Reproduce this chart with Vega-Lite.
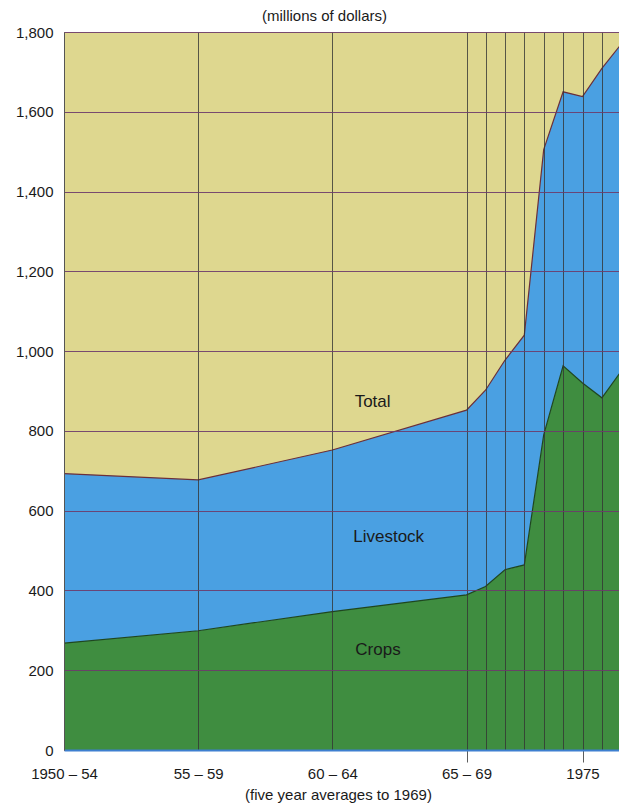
{
  "$schema": "https://vega.github.io/schema/vega-lite/v6.json",
  "width": 555,
  "height": 718,
  "autosize": {"type": "none"},
  "padding": {"left": 64, "top": 32, "right": 0, "bottom": 56},
  "background": "white",
  "config": {"view": {"fill": "#ded78f", "stroke": null}, "font": "Liberation Sans"},
  "title": {"text": "(millions of dollars)", "fontSize": 15, "fontWeight": "normal", "color": "#1a1a1a", "anchor": "middle", "dx": -17, "offset": 1, "font": "Liberation Sans"},
  "datasets": {
    "values": [
      {"year": 1952, "period": "1950–54", "series": "Crops", "value": 268},
      {"year": 1957, "period": "55–59", "series": "Crops", "value": 299},
      {"year": 1962, "period": "60–64", "series": "Crops", "value": 347},
      {"year": 1967, "period": "65–69", "series": "Crops", "value": 389},
      {"year": 1970, "period": "1970", "series": "Crops", "value": 410},
      {"year": 1971, "period": "1971", "series": "Crops", "value": 452},
      {"year": 1972, "period": "1972", "series": "Crops", "value": 464},
      {"year": 1973, "period": "1973", "series": "Crops", "value": 790},
      {"year": 1974, "period": "1974", "series": "Crops", "value": 963},
      {"year": 1975, "period": "1975", "series": "Crops", "value": 920},
      {"year": 1976, "period": "1976", "series": "Crops", "value": 883},
      {"year": 1977, "period": "1977", "series": "Crops", "value": 950},
      {"year": 1952, "period": "1950–54", "series": "Livestock", "value": 425},
      {"year": 1957, "period": "55–59", "series": "Livestock", "value": 378},
      {"year": 1962, "period": "60–64", "series": "Livestock", "value": 405},
      {"year": 1967, "period": "65–69", "series": "Livestock", "value": 463},
      {"year": 1970, "period": "1970", "series": "Livestock", "value": 492},
      {"year": 1971, "period": "1971", "series": "Livestock", "value": 525},
      {"year": 1972, "period": "1972", "series": "Livestock", "value": 576},
      {"year": 1973, "period": "1973", "series": "Livestock", "value": 715},
      {"year": 1974, "period": "1974", "series": "Livestock", "value": 687},
      {"year": 1975, "period": "1975", "series": "Livestock", "value": 718},
      {"year": 1976, "period": "1976", "series": "Livestock", "value": 826},
      {"year": 1977, "period": "1977", "series": "Livestock", "value": 820}
    ],
    "labels": [
      {"year": 1963.5, "value": 873, "label": "Total"},
      {"year": 1964.1, "value": 534, "label": "Livestock"},
      {"year": 1963.7, "value": 251, "label": "Crops"}
    ]
  },
  "layer": [
    {
      "data": {"name": "values"},
      "transform": [{"stack": "value", "groupby": ["year"], "sort": [{"field": "series", "order": "ascending"}], "as": ["v0", "v1"]}],
      "mark": {"type": "area", "clip": true},
      "encoding": {
        "x": {
          "field": "year", "type": "quantitative",
          "scale": {"domain": [1952, 1967, 1970, 1977], "range": [0, 402.5, 421.5, 557.3], "nice": false, "zero": false},
          "axis": {
            "values": [1952, 1957, 1962, 1967, 1970, 1971, 1972, 1973, 1974, 1975, 1976, 1977],
            "labelExpr": "datum.value == 1952 ? '1950 – 54' : datum.value == 1957 ? '55 – 59' : datum.value == 1962 ? '60 – 64' : datum.value == 1967 ? '65 – 69' : datum.value == 1975 ? '1975' : ''",
            "grid": true, "gridColor": "#333333", "gridWidth": 0.8, "gridOpacity": 1,
            "tickSize": 12, "tickColor": "#333333", "tickWidth": 0.8,
            "tickOpacity": {"condition": {"test": "datum.value == 1967 || datum.value == 1975", "value": 1}, "value": 0},
            "labelPadding": 4, "labelFontSize": 15, "labelColor": "#1a1a1a", "labelFont": "Liberation Sans",
            "labelDx": 3, "labelFlush": false, "labelOverlap": false, "labelBound": false,
            "domainColor": "#3d7fd0", "domainWidth": 2,
            "title": "(five year averages to 1969)", "titleFontSize": 15, "titleFontWeight": "normal", "titleColor": "#1a1a1a", "titleFont": "Liberation Sans",
            "titlePadding": 6, "titleX": 274,
            "zindex": 1
          }
        },
        "y": {
          "field": "v1", "type": "quantitative",
          "scale": {"domain": [0, 1800], "nice": false},
          "axis": {
            "values": [0, 200, 400, 600, 800, 1000, 1200, 1400, 1600, 1800],
            "format": ",d",
            "grid": true, "gridColor": "#6d3b6b", "gridWidth": 1, "gridOpacity": 0.9,
            "ticks": false, "labelPadding": 11, "labelFontSize": 15, "labelColor": "#1a1a1a", "labelFont": "Liberation Sans", "labelDy": 2,
            "domainColor": "#555555", "domainWidth": 1,
            "title": null, "zindex": 1
          }
        },
        "y2": {"field": "v0"},
        "fill": {"field": "series", "type": "nominal", "scale": {"domain": ["Crops", "Livestock"], "range": ["#3f8d40", "#4aa0e2"]}, "legend": null}
      }
    },
    {
      "data": {"name": "values"},
      "transform": [{"stack": "value", "groupby": ["year"], "sort": [{"field": "series", "order": "ascending"}], "as": ["v0", "v1"]}],
      "mark": {"type": "line", "clip": true, "strokeWidth": 1.2},
      "encoding": {
        "x": {"field": "year", "type": "quantitative"},
        "y": {"field": "v1", "type": "quantitative"},
        "stroke": {"field": "series", "type": "nominal", "scale": {"domain": ["Crops", "Livestock"], "range": ["#1e4620", "#6b2f3a"]}, "legend": null}
      }
    },
    {
      "data": {"name": "labels"},
      "mark": {"type": "text", "fontSize": 17, "color": "#1a1a1a", "font": "Liberation Sans"},
      "encoding": {
        "x": {"field": "year", "type": "quantitative"},
        "y": {"field": "value", "type": "quantitative"},
        "text": {"field": "label"}
      }
    }
  ]
}
